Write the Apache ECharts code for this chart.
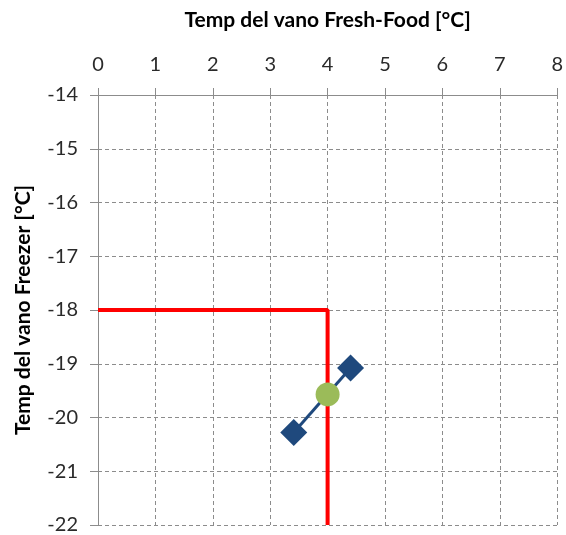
<!DOCTYPE html>
<html>
<head>
<meta charset="utf-8">
<script src="https://cdn.jsdelivr.net/npm/echarts@6/dist/echarts.min.js"></script>
<style>
  html, body { margin: 0; padding: 0; background: #fff; }
  #chart { width: 566px; height: 535px; }
</style>
</head>
<body>
<div id="chart"></div>
<script>
// limite di riferimento (rosso)
let limitLine = [[0, -18], [4, -18], [4, -22]]
// due punti di prova (rombi)
let testPoints = [[3.41, -20.28], [4.40, -19.08]]
// punto interpolato (cerchio verde)
let interpPoint = [[4.0, -19.57]]

let xName = 'Temp del vano Fresh-Food [°C]'
let yName = 'Temp del vano Freezer [°C]'

let chartDom = document.getElementById('chart')
let myChart = echarts.init(chartDom)

let labelStyle = {
  fontFamily: 'Lato, "Open Sans", sans-serif',
  fontSize: 20,
  color: '#2a2a2a'
}

let nameStyle = {
  fontFamily: 'Lato, "Open Sans", sans-serif',
  fontSize: 21,
  fontWeight: 'bold',
  color: '#000'
}

let option = {
  animation: false,
  grid: {
    left: 98,
    right: 8,
    top: 95,
    bottom: 10
  },
  xAxis: {
    type: 'value',
    position: 'top',
    min: 0,
    max: 8,
    interval: 1,
    name: xName,
    nameLocation: 'middle',
    nameGap: 64,
    nameTextStyle: nameStyle,
    axisLine: { show: true, lineStyle: { color: '#8c8c8c', width: 1 } },
    axisTick: { show: true, inside: false, length: 7, lineStyle: { color: '#8c8c8c' } },
    axisLabel: Object.assign({ margin: 20 }, labelStyle),
    splitLine: { show: true, lineStyle: { color: '#8c8c8c', type: [4, 3] } }
  },
  yAxis: {
    type: 'value',
    min: -22,
    max: -14,
    interval: 1,
    name: yName,
    nameLocation: 'middle',
    nameGap: 64,
    nameTextStyle: nameStyle,
    axisLine: { show: true, lineStyle: { color: '#8c8c8c', width: 1 } },
    axisTick: { show: true, inside: false, length: 8, lineStyle: { color: '#8c8c8c' } },
    axisLabel: Object.assign({ margin: 20 }, labelStyle),
    splitLine: { show: true, lineStyle: { color: '#8c8c8c', type: [4, 3] } }
  },
  series: [
    {
      type: 'line',
      data: limitLine,
      showSymbol: false,
      symbol: 'none',
      lineStyle: { color: '#ff0000', width: 4 },
      z: 2
    },
    {
      type: 'line',
      data: testPoints,
      symbol: 'diamond',
      symbolSize: 27,
      itemStyle: { color: '#1f497d' },
      lineStyle: { color: '#1f497d', width: 3 },
      z: 3
    },
    {
      type: 'scatter',
      data: interpPoint,
      symbol: 'circle',
      symbolSize: 24,
      itemStyle: { color: '#9bbb59', opacity: 1 },
      z: 4
    }
  ]
}
myChart.setOption(option)

window.addEventListener('resize', () => {
  myChart.resize()
})
</script>
</body>
</html>
